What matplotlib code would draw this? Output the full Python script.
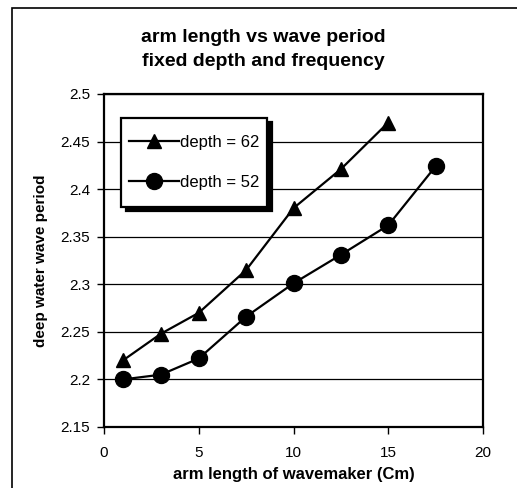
import matplotlib.pyplot as plt
from matplotlib.patches import Rectangle
from matplotlib.path import Path

# --- datos ---
arm_62 = [1, 3, 5, 7.5, 10, 12.5, 15]
period_62 = [2.22, 2.248, 2.27, 2.315, 2.38, 2.421, 2.47]
arm_52 = [1, 3, 5, 7.5, 10, 12.5, 15, 17.5]
period_52 = [2.2, 2.205, 2.222, 2.266, 2.301, 2.331, 2.362, 2.424]
x_ticks = [0, 5, 10, 15, 20]
y_ticks = [2.15, 2.2, 2.25, 2.3, 2.35, 2.4, 2.45, 2.5]

plt.rcParams['font.family'] = ['Liberation Sans', 'DejaVu Sans']

fig = plt.figure(figsize=(5.17, 4.88), dpi=100)
ax = fig.add_axes([0.2012, 0.125, 0.7330, 0.6824])

# marco exterior del gráfico
fig.patches.append(Rectangle((12 / 517, -0.1), 1.2, 1 - 8 / 488 + 0.1, transform=fig.transFigure,
                             fill=False, edgecolor='black', linewidth=1.2))

ax.plot(arm_62, period_62, color='black', lw=1.6, marker='^', markersize=10.5, label='depth = 62')
ax.plot(arm_52, period_52, color='black', lw=1.6, marker='o', markersize=11.5, label='depth = 52')

ax.set_xlim(0, 20)
ax.set_ylim(2.15, 2.5)
ax.set_xticks(x_ticks)
ax.set_yticks(y_ticks)
ax.set_yticklabels([f'{v:g}' for v in y_ticks])
ax.tick_params(labelsize=11, direction='out', length=5, width=1)
ax.tick_params(axis='x', pad=9)
ax.tick_params(axis='y', pad=5)
ax.yaxis.grid(True, color='black', linewidth=0.9)
ax.set_axisbelow(True)
for s in ax.spines.values():
    s.set_linewidth(1.6)

ax.set_xlabel('arm length of wavemaker (Cm)', fontsize=12, fontweight='bold', labelpad=5)
ax.set_ylabel('deep water wave period', fontsize=11, fontweight='bold', labelpad=9)
fig.text(0.509, 0.8986, 'arm length vs wave period\nfixed depth and frequency', ha='center', va='center',
         fontsize=14, fontweight='bold', linespacing=1.6)

leg = ax.legend(loc='upper left', bbox_to_anchor=(0.045, 0.8995), fontsize=12, handlelength=3.0,
                handletextpad=0.1, labelspacing=1.48, borderpad=0.45,
                borderaxespad=0, fancybox=False,
                shadow={'color': 'black', 'alpha': 1, 'ox': 3.5, 'oy': -3}, framealpha=1)


# caja de la leyenda con más margen vertical que horizontal
def caja_alta(x0, y0, width, height, mutation_size):
    dy = 0.57 * mutation_size
    return Path.unit_rectangle().transformed(
        plt.matplotlib.transforms.Affine2D().scale(width, height + 2 * dy).translate(x0, y0 - dy))


leg.get_frame().set_boxstyle(caja_alta)
leg.get_frame().set_edgecolor('black')
leg.get_frame().set_linewidth(1.6)

fig.savefig('out.png', dpi=100)
